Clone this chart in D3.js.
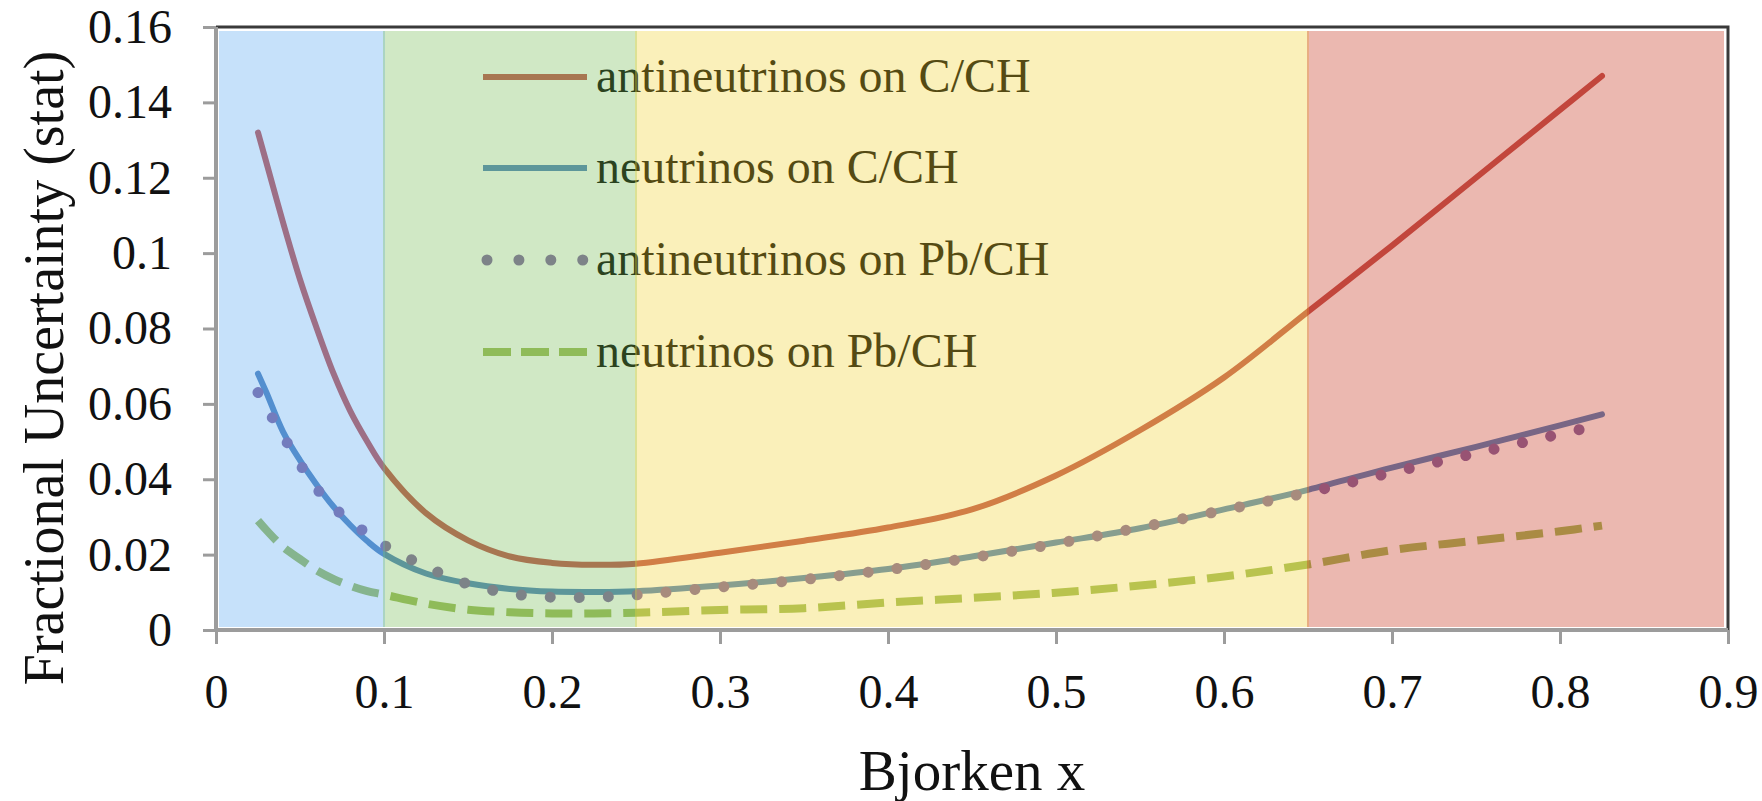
<!DOCTYPE html>
<html><head><meta charset="utf-8">
<script src="https://cdn.jsdelivr.net/npm/d3@7"></script>
<style>body{margin:0;background:#fff} svg{display:block}</style>
</head><body>
<svg id="chart" width="1762" height="801"></svg>
<script>
// ---- data ----
const xValues = [0.025,0.03,0.04,0.05,0.06,0.07,0.08,0.09,0.1,0.125,0.15,0.175,0.2,0.225,0.25,0.3,0.35,0.4,0.45,0.5,0.55,0.6,0.65,0.7,0.75,0.8,0.825];
const antineutrinosC = [0.132,0.124,0.108,0.093,0.080,0.068,0.058,0.050,0.043,0.031,0.0238,0.0195,0.0178,0.0173,0.0176,0.0205,0.0237,0.0272,0.032,0.041,0.053,0.067,0.0845,0.102,0.120,0.138,0.147];
const neutrinosC = [0.068,0.063,0.0525,0.045,0.0385,0.0327,0.0278,0.0236,0.0202,0.0150,0.0124,0.0109,0.0102,0.0101,0.0103,0.0118,0.0138,0.0162,0.0195,0.0232,0.027,0.032,0.0372,0.0431,0.0486,0.0543,0.0572];
const antineutrinosPb = [0.063,0.059,0.0515,0.044,0.0375,0.0325,0.029,0.0255,0.0225,0.0168,0.0122,0.0097,0.0087,0.0087,0.0093,0.0114,0.0134,0.016,0.0192,0.0229,0.0272,0.0318,0.0365,0.0418,0.0469,0.052,0.0545];
const neutrinosPb = [0.029,0.0265,0.022,0.0188,0.0158,0.0135,0.0117,0.0103,0.0094,0.0070,0.0054,0.0047,0.0044,0.0044,0.0046,0.0053,0.0058,0.0073,0.0085,0.0099,0.0118,0.0142,0.0174,0.0212,0.0237,0.0262,0.0277];
const seriesNames = ["antineutrinos on C/CH","neutrinos on C/CH","antineutrinos on Pb/CH","neutrinos on Pb/CH"];
const regionEdges = [0, 0.1, 0.25, 0.65, 0.9];
const xTicks = [0,0.1,0.2,0.3,0.4,0.5,0.6,0.7,0.8,0.9];
const xTickLabels = ["0","0.1","0.2","0.3","0.4","0.5","0.6","0.7","0.8","0.9"];
const yTicks = [0,0.02,0.04,0.06,0.08,0.1,0.12,0.14,0.16];
const yTickLabels = ["0","0.02","0.04","0.06","0.08","0.1","0.12","0.14","0.16"];
const xTitle = "Bjorken x";
const yTitle = "Fractional Uncertainty (stat)";

// ---- styles ----
const lineColors = ["#c0504d","#4f81bd","#8064a2","#9bbb59"];
const bandColors = ["rgb(92,169,241)","rgb(121,189,89)","rgb(241,212,58)","rgb(198,52,29)"];
const bandAlpha = 0.35;
const font = "'Liberation Serif','Times New Roman',serif";

const svg = d3.select("#chart");
const L = 216, R = 1728, T = 27, B = 630;
const x = d3.scaleLinear().domain([0,0.9]).range([L,R]);
const y = d3.scaleLinear().domain([0,0.16]).range([B,T]);

const series = [antineutrinosC, neutrinosC, antineutrinosPb, neutrinosPb];
const line = d3.line().x((d,i)=>x(xValues[i])).y(d=>y(d)).curve(d3.curveCatmullRom.alpha(0.5));

const gLines = svg.append("g");
series.forEach((s,k)=>{
  const p = gLines.append("path").datum(s).attr("d", line)
    .attr("fill","none").attr("stroke", lineColors[k])
    .attr("stroke-linejoin","round");
  if (k===2) p.attr("stroke-width",11).attr("stroke-linecap","round").attr("stroke-dasharray","0.01 29");
  else if (k===3) p.attr("stroke-width",8).attr("stroke-linecap","butt").attr("stroke-dasharray","27 12");
  else p.attr("stroke-width",6).attr("stroke-linecap","round");
});

// legend
const legY = [77,168,260,352];
const lg = svg.append("g");
seriesNames.forEach((n,k)=>{
  const ln = lg.append("line").attr("x1",483).attr("x2",587).attr("y1",legY[k]).attr("y2",legY[k])
    .attr("stroke",lineColors[k]);
  if (k===2) ln.attr("x1",487).attr("x2",583).attr("stroke-width",11).attr("stroke-linecap","round").attr("stroke-dasharray","0.01 31.9");
  else if (k===3) ln.attr("stroke-width",8).attr("stroke-dasharray","28 10");
  else ln.attr("stroke-width",6);
  lg.append("text").attr("x",596).attr("y",legY[k]+15).text(n)
    .attr("font-family",font).attr("font-size",48).attr("fill","#000");
});

// translucent regions over everything in the plot area
const gb = svg.append("g");
regionEdges.slice(0,-1).forEach((e,i)=>{
  const x0 = Math.max(x(e)-1, L+3), x1 = Math.min(x(regionEdges[i+1])+1, R-4);
  gb.append("rect").attr("x",x0).attr("y",T+4).attr("width",x1-x0).attr("height",B-3-(T+4))
    .attr("fill",bandColors[i]).attr("fill-opacity",bandAlpha);
});

// frame
svg.append("path").attr("d",`M${L},${T}H${R}V${B}`).attr("fill","none").attr("stroke","#3a3a3a").attr("stroke-width",3);

// axes
const yAxis = d3.axisLeft(y).tickValues(yTicks).tickFormat((d,i)=>yTickLabels[i]).tickSize(13).tickPadding(31);
const gy = svg.append("g").attr("transform",`translate(${L},0)`).call(yAxis);
const xAxis = d3.axisBottom(x).tickValues(xTicks).tickFormat((d,i)=>xTickLabels[i]).tickSize(14).tickPadding(30);
const gx = svg.append("g").attr("transform",`translate(0,${B})`).call(xAxis);
[gx,gy].forEach(g=>{
  g.select(".domain").attr("stroke","#9c9c9c").attr("stroke-width",4);
  g.selectAll(".tick line").attr("stroke","#9c9c9c").attr("stroke-width",3);
  g.selectAll(".tick text").attr("font-family",font).attr("font-size",48).attr("fill","#111");
});
gy.select(".domain").attr("d",`M0,${T}V${B+2}`);
gx.select(".domain").attr("d",`M${L-2},0H${R}`);

// titles
svg.append("text").attr("x",(L+R)/2).attr("y",790).attr("text-anchor","middle")
  .attr("font-family",font).attr("font-size",57).attr("fill","#111").text(xTitle);
svg.append("text").attr("transform","translate(63,368) rotate(-90)").attr("text-anchor","middle")
  .attr("font-family",font).attr("font-size",56).attr("fill","#111").text(yTitle);
</script>
</body></html>
